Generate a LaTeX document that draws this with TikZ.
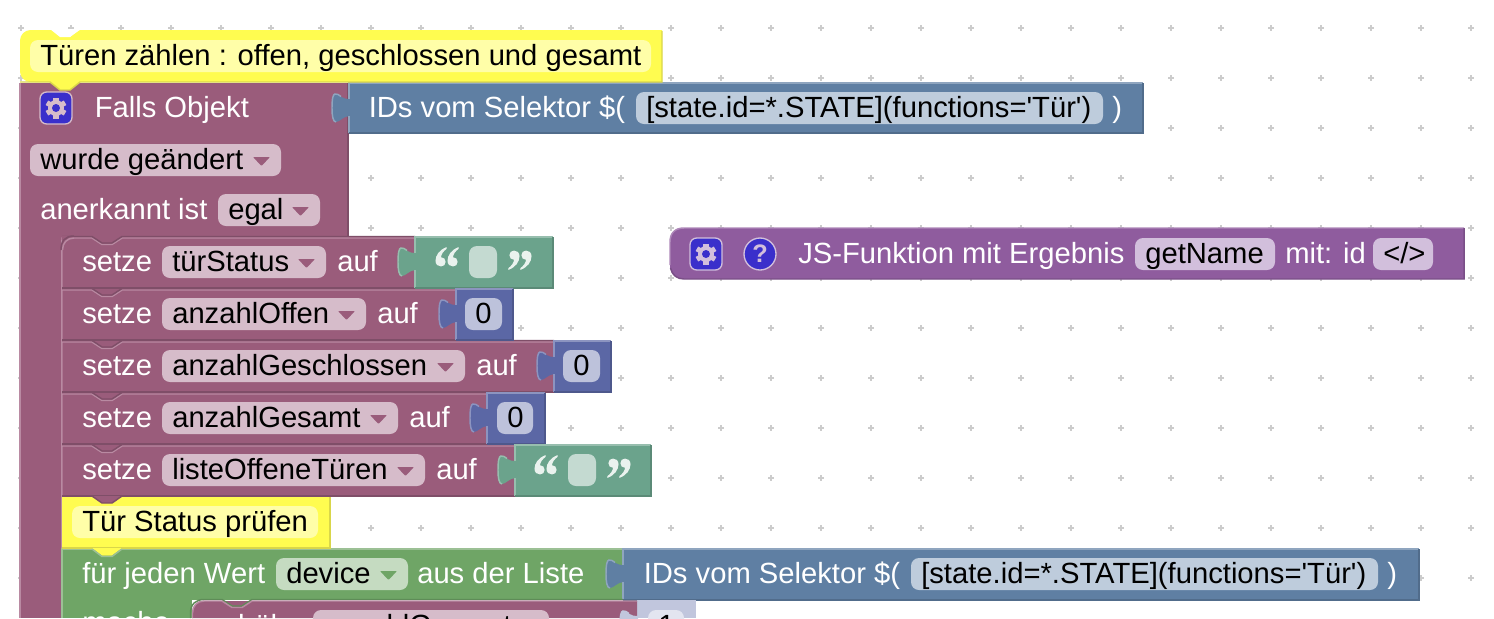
\documentclass[tikz,border=0pt]{standalone}
\usepackage{fontspec}
\setmainfont[Ligatures=TeXOff]{Liberation Sans}
\definecolor{rose}{HTML}{9A5C7B}\definecolor{roseL}{HTML}{B98AA2}\definecolor{roseD}{HTML}{7F4E68}
\definecolor{roseF}{HTML}{D6BCCA}
\definecolor{stm}{HTML}{6FA566}\definecolor{stmL}{HTML}{9CC095}\definecolor{stmD}{HTML}{5E8C57}
\definecolor{stmF}{HTML}{C5DBC1}
\definecolor{sel}{HTML}{5F7FA3}\definecolor{selL}{HTML}{8FA5BF}\definecolor{selD}{HTML}{516C8B}
\definecolor{selF}{HTML}{BECCDC}
\definecolor{num}{HTML}{5B67A5}\definecolor{numL}{HTML}{8C94C0}\definecolor{numD}{HTML}{4E588C}
\definecolor{numF}{HTML}{BDC2DB}
\definecolor{txtb}{HTML}{6BA38C}\definecolor{txtbL}{HTML}{97BEAE}\definecolor{txtbD}{HTML}{5B8A77}
\definecolor{txtbF}{HTML}{C4DAD1}\definecolor{txtbQ}{HTML}{EAF2EE}
\definecolor{jsb}{HTML}{8F5C9E}\definecolor{jsbL}{HTML}{AE88B9}\definecolor{jsbD}{HTML}{7A4F87}
\definecolor{jsbF}{HTML}{D2BFDC}
\definecolor{cmt}{HTML}{FFFC50}\definecolor{cmtD}{HTML}{D9D64A}\definecolor{cmtF}{HTML}{FFFEA8}
\definecolor{pale}{HTML}{C1C6DD}\definecolor{paleF}{HTML}{E3E5F0}
\definecolor{icon}{HTML}{3A2FCB}\definecolor{gridc}{HTML}{CCCCCC}
\tikzset{
  txt/.style={inner sep=0pt,anchor=base west,yshift=-.75pt,font=\fontsize{21.9}{26}\selectfont},
  wtxt/.style={txt,text=white},
  edge/.style={line width=1.1pt},
  fieldbox/.style={rounded corners=6pt},
}
% white label
\newcommand\lbl[4]{\node[wtxt] (#1) at (#2,#3) {#4};}
% plain field: name x1 x2 baseline text colour
\newcommand\plainfld[6]{%
  \fill[#6,fieldbox] (#2,{#4-24}) rectangle (#3,{#4+8});
  \node[txt] (#1) at ({#2+10},#4) {#5};}
% dropdown field
\newcommand\ddfld[7]{%
  \plainfld{#1}{#2}{#3}{#4}{#5}{#6}%
  \fill[#7,rounded corners=.6pt] ({#3-28},{#4-11}) -- ({#3-11},{#4-11}) -- ({#3-19.5},{#4-2}) -- cycle;}
% puzzle tab: x top colour light
\newcommand\ptab[4]{%
  \begin{scope}[shift={(#1,#2)}]
    \fill[#3] (1,16) .. controls (-6,17) and (-10,11) .. (-14,11) .. controls (-16,11) and (-17,16) .. (-17,25)
      .. controls (-17,33) and (-16,39) .. (-13,39) .. controls (-9,39) and (-6,33) .. (1,33) -- cycle;
    \draw[#4,edge] (-8,13.5) .. controls (-10,11.5) and (-12,11) .. (-14,11) .. controls (-16,11) and (-17,16) .. (-17,25)
      .. controls (-17,33) and (-16,39) .. (-13,39);
  \end{scope}}
% value block: x1 x2 top bottom colourname
\newcommand\valblk[5]{%
  \fill[#5] (#1,#3) rectangle (#2,#4);
  \ptab{#1}{#3}{#5}{#5L}
  \draw[#5L,edge] (#1,{#3+16}) -- (#1,#3) -- (#2,#3);
  \draw[#5L,edge] (#1,{#3+33}) -- (#1,#4);
  \draw[#5D,edge] (#2,#3) -- (#2,#4) -- (#1,#4);}
% statement row: x2 top bottom
\newcommand\stmtrow[3]{%
  \fill[rose] (62,#2) rectangle (#1,#3);
  \draw[roseL,edge] (62,#3) -- (62,{#2+1}) -- (92,{#2+1}) -- (102,{#2+7.5}) -- (112,{#2+7.5}) -- (122,{#2+1}) -- (#1,{#2+1});
  \draw[roseD,edge] (62,{#2-.5}) -- (92,{#2-.5}) -- (102,{#2+6}) -- (112,{#2+6}) -- (122,{#2-.5}) -- (#1,{#2-.5});
  \draw[roseD,edge] (62,#3) -- (#1,#3);}
% quotes
\newcommand\qmark[2]{\fill[txtbQ,shift={(#1,#2)},scale=.92] (6,-14) .. controls (-2,-11) and (-6,-5) .. (-6,1) .. controls (-6,5) and (-3,7) .. (0,7)
   .. controls (3,7) and (5,5) .. (5,2) .. controls (5,-1) and (3,-3) .. (0,-3) .. controls (0,-6) and (3,-10) .. (6,-12) -- cycle;}
\newcommand\qmarkr[2]{\begin{scope}[shift={(#1,#2)},rotate=180]\qmark{0}{0}\end{scope}}
% gear
\newcommand\gearic[4]{%
  \node[draw=#4,fill=icon,line width=1pt,rounded corners=5pt,minimum size=24pt,inner sep=0pt] (#1) at (#2,#3) {};
  \begin{scope}[shift={(#2,#3)}]
    \fill[#4] (0,0) circle (8);
    \foreach \a in {0,60,120} {\fill[#4,rotate=\a] (-2.6,-10.5) rectangle (2.6,10.5);}
    \fill[icon] (0,0) circle (4);
  \end{scope}}
\begin{document}
\begin{tikzpicture}[x=.75pt,y=-.75pt]
\clip (0,0) rectangle (1494,618);
\fill[white] (0,0) rectangle (1494,618);
% grid
\foreach \gx in {0,...,29} \foreach \gy in {0,...,11}
  \draw[gridc,line width=.9pt] ({21+50*\gx-3},{28+50*\gy}) -- ({21+50*\gx+3},{28+50*\gy})
     ({21+50*\gx},{28+50*\gy-3}) -- ({21+50*\gx},{28+50*\gy+3});
% main block
\fill[rose] (20,83) rectangle (348,240);
\fill[rose] (20,83) rectangle (62,618);
\draw[roseD,edge] (348,83) -- (348,236);
\draw[roseL,edge] (20,83) -- (20,618);
\draw[roseL,edge] (62,240) -- (62,618);
% top selector
\valblk{349}{1143}{83}{133}{sel}
\gearic{g1}{56}{108}{roseF}
\lbl{falls}{94.5}{116}{Falls Objekt}
\lbl{ids1}{368.5}{116}{IDs vom Selektor \$(}
\plainfld{sel1}{636}{1103}{116}{[state.id=*.STATE](functions='Tür')}{selF}
\lbl{cl1}{1112}{116}{)}
\ddfld{wurde}{30}{281}{168}{wurde geändert}{roseF}{rose}
\lbl{anerk}{40}{218}{anerkannt ist}
\ddfld{egal}{218}{320}{218}{egal}{roseF}{rose}
% rows
\stmtrow{415}{237}{288}
\fill[rose] (62,236) rectangle (74,248);
\draw[roseD,edge] (61,250) .. controls (61,241) and (65,236) .. (74,236);
\draw[roseL,edge] (62.5,250) .. controls (62.5,243) and (67,238) .. (74,238);
\stmtrow{456}{289}{340}
\stmtrow{554}{341}{392}
\stmtrow{487}{393}{444}
\stmtrow{515}{445}{496}
\valblk{415}{553}{237}{288}{txtb}
\valblk{456}{513}{289}{340}{num}
\valblk{554}{611}{341}{392}{num}
\valblk{487}{545}{393}{444}{num}
\valblk{515}{651}{445}{496}{txtb}
\lbl{s1}{82}{270}{setze}
\ddfld{f1}{162}{326}{270}{türStatus}{roseF}{rose}
\lbl{a1}{337}{270}{auf}
\qmark{441}{260}\qmark{453}{260}
\fill[txtbF,fieldbox] (469,246) rectangle (497,278);
\qmarkr{514}{257}\qmarkr{526}{257}
\lbl{s2}{82}{322}{setze}
\ddfld{f2}{162}{366}{322}{anzahlOffen}{roseF}{rose}
\lbl{a2}{377}{322}{auf}
\plainfld{n2}{465}{502}{322}{0}{numF}
\lbl{s3}{82}{374}{setze}
\ddfld{f3}{162}{465}{374}{anzahlGeschlossen}{roseF}{rose}
\lbl{a3}{476}{374}{auf}
\plainfld{n3}{563}{600}{374}{0}{numF}
\lbl{s4}{82}{426}{setze}
\ddfld{f4}{162}{398}{426}{anzahlGesamt}{roseF}{rose}
\lbl{a4}{409}{426}{auf}
\plainfld{n4}{497}{533}{426}{0}{numF}
\lbl{s5}{82}{478}{setze}
\ddfld{f5}{162}{425}{478}{listeOffeneTüren}{roseF}{rose}
\lbl{a5}{436}{478}{auf}
\qmark{540}{468}\qmark{552}{468}
\fill[txtbF,fieldbox] (568,454) rectangle (596,486);
\qmarkr{613}{465}\qmarkr{625}{465}
% green loop
\fill[stm] (62,549) rectangle (623,600);
\fill[stm] (62,600) rectangle (192,618);
\draw[stmL,edge] (62,618) -- (62,549) -- (623,549);
\draw[stmD,edge] (623,549) -- (623,600);
% blue selector
\valblk{623}{1419}{549}{600}{sel}
\lbl{fj}{82}{582}{für jeden Wert}
\ddfld{dev}{276}{408}{582}{device}{stmF}{stm}
\lbl{aus}{417}{582}{aus der Liste}
\lbl{ids2}{643.5}{582}{IDs vom Selektor \$(}
\plainfld{sel2}{911}{1378}{582}{[state.id=*.STATE](functions='Tür')}{selF}
\lbl{cl2}{1387}{582}{)}
\lbl{mach}{82}{631}{mache}
% inner block
\fill[pale] (637,600) rectangle (696,618);
\plainfld{n5}{648}{684}{634}{1}{paleF}
\fill[rose] (192,618) -- (192,613) .. controls (192,606) and (197,601) .. (204,601) -- (637,601) -- (637,618) -- cycle;
\ptab{637}{600}{pale}{pale}
\draw[stmD,edge] (190.5,618) -- (190.5,613) .. controls (190.5,604) and (196,599.5) .. (204,599.5) -- (222,599.5) -- (232,606) -- (242,606) -- (252,599.5) -- (623,599.5);
\draw[roseL,edge] (192.5,618) -- (192.5,613) .. controls (192.5,606) and (197,601) .. (204,601) -- (222,601) -- (232,607.5) -- (242,607.5) -- (252,601) -- (637,601);
\node[wtxt] (erh) at (212,634) {erhöhe};
\ddfld{f6}{313}{549}{634}{anzahlGesamt}{roseF}{rose}
% comment two
\fill[cmt] (62,497) -- (330,497) -- (330,548) -- (62,548) -- cycle;
\draw[cmtD,edge] (330,497) -- (330,548) -- (62,548);
\plainfld{c2}{72}{318}{530}{Tür Status prüfen}{cmtF}
\fill[rose] (92,496) -- (122,496) -- (112,503) -- (102,503) -- cycle;
\draw[roseD,edge] (92,496) -- (102,503) -- (112,503) -- (122,496);
\fill[cmt] (92,548) -- (122,548) -- (112,555.5) -- (102,555.5) -- cycle;
\draw[stmL,edge] (92,549) -- (102,556.5) -- (112,556.5) -- (122,549);
% header comment
\fill[cmt,rounded corners=8pt] (20,82) -- (20,30) -- (70,30) -- (70,82) -- cycle;
\fill[cmt] (35,30) -- (50,30) -- (60,37) -- (70,37) -- (80,30) -- (662,30) -- (662,82) -- (35,82) -- cycle;
\fill[white] (50,29) -- (80,29) -- (70,37) -- (60,37) -- cycle;
\fill[cmt] (50,82) -- (80,82) -- (70,90) -- (60,90) -- cycle;
\draw[cmtD,edge] (20,82) -- (50,82) -- (60,90) -- (70,90) -- (80,82) -- (662,82) -- (662,31);
\plainfld{c1}{30}{651}{64}{Türen zählen : offen, geschlossen und gesamt}{cmtF}
% JS function block
\fill[jsb] (670,242) .. controls (670,233) and (675,228) .. (684,228) -- (1464,228) -- (1464,279) -- (684,279) .. controls (675,279) and (670,274) .. (670,265) -- cycle;
\draw[jsbL,edge] (670,265) -- (670,242) .. controls (670,233) and (675,228) .. (684,228) -- (1464,228);
\draw[jsbD,edge] (1464,228) -- (1464,279) -- (684,279) .. controls (677,279) and (672,275) .. (670.5,268);
\gearic{g2}{706}{254}{jsbF}
\node[circle,draw=jsbF,fill=icon,line width=1pt,minimum size=24pt,inner sep=0pt,font=\fontsize{19}{22}\bfseries\selectfont,text=jsbF] (help) at (760,254) {?};
\lbl{jsf}{798}{262}{JS-Funktion mit Ergebnis}
\plainfld{gn}{1135}{1275}{262}{getName}{jsbF}
\lbl{mitid}{1285}{262}{mit: id}
\plainfld{code}{1373}{1433}{262}{</>}{jsbF}
\end{tikzpicture}
\end{document}
